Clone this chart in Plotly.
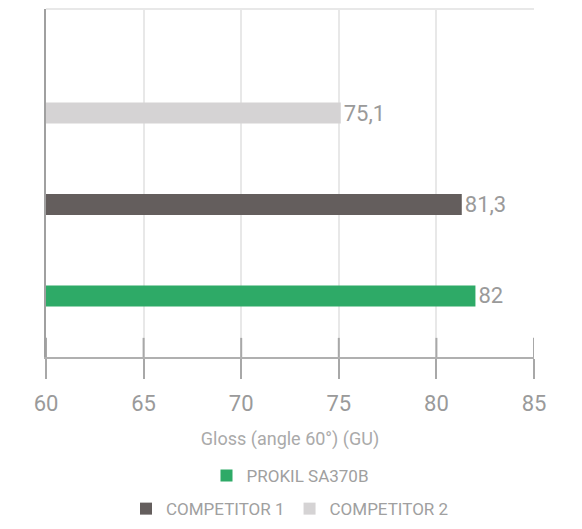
import plotly.graph_objects as go

categories = ["PROKIL SA370B", "COMPETITOR 1", "COMPETITOR 2"]
values = [82, 81.3, 75.1]
value_labels = ["82", "81,3", "75,1"]
colors = ["#2eaa67", "#645e5d", "#d5d3d4"]
tick_vals = [60, 65, 70, 75, 80, 85]
legends = ["legend", "legend2", "legend2"]

fig = go.Figure()
for cat, v, lab, c, lg in zip(categories, values, value_labels, colors, legends):
    fig.add_trace(go.Bar(
        y=[cat], x=[v], orientation="h", name=cat,
        marker=dict(color=c, line=dict(width=0)),
        width=0.23, text=[lab], textposition="outside", constraintext="none",
        textfont=dict(size=22, color="#9a9a9a", family="Roboto"),
        cliponaxis=False, legend=lg,
    ))

# tick marks extending above the axis line
for t in tick_vals:
    fig.add_shape(type="line", xref="x", yref="paper", x0=t, x1=t, y0=0, y1=0.055,
                  line=dict(color="#a8a8a8", width=2), layer="above")
# top border
fig.add_shape(type="line", xref="paper", yref="paper", x0=0, x1=1, y0=1, y1=1,
              line=dict(color="#e8e8e8", width=2), layer="below")

# the page body has an 8px default margin, so the figure is sized to fit inside it
fig.update_layout(
    width=566, height=513,
    margin=dict(l=38, r=40, t=1, b=164, autoexpand=False),
    paper_bgcolor="white", plot_bgcolor="white",
    barmode="overlay",
    font=dict(family="Roboto", color="#9a9a9a"),
    xaxis=dict(
        range=[60, 85], tickvals=tick_vals, showgrid=True, gridcolor="#e8e8e8", gridwidth=2,
        showline=True, linecolor="#b0b0b0", linewidth=2,
        ticks="outside", ticklen=20, tickwidth=2, tickcolor="#a8a8a8",
        tickfont=dict(size=22, color="#9a9a9a"), ticklabelstandoff=6,
        title=dict(text="Gloss (angle 60°) (GU)", font=dict(size=18, color="#aaaaaa"), standoff=17),
        zeroline=False, automargin=False,
    ),
    yaxis=dict(
        categoryorder="array", categoryarray=categories,
        range=[-0.667, 3.137], showticklabels=False, ticks="",
        showgrid=False, showline=True, linecolor="#a0a0a0", linewidth=2, zeroline=False,
        automargin=False,
    ),
    legend=dict(orientation="h", x=0.5, xanchor="center", y=-0.342, yanchor="middle",
                font=dict(size=17, color="#a0a0a0"), tracegroupgap=0),
    legend2=dict(orientation="h", x=0.5, xanchor="center", y=-0.437, yanchor="middle",
                 font=dict(size=17, color="#a0a0a0"), tracegroupgap=0),
    showlegend=True,
)

fig.write_html("out.html")
